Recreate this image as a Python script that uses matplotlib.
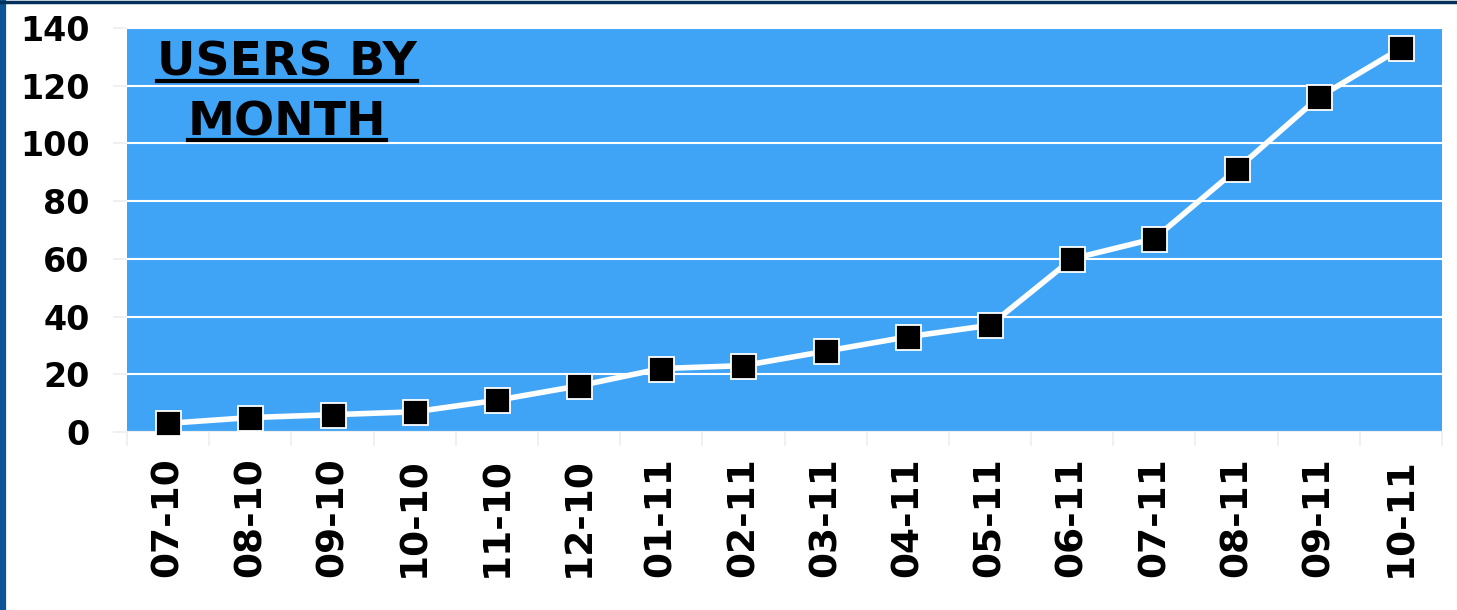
import matplotlib.pyplot as plt
from matplotlib.lines import Line2D

# datos
meses = ['07-10', '08-10', '09-10', '10-10', '11-10', '12-10', '01-11', '02-11',
         '03-11', '04-11', '05-11', '06-11', '07-11', '08-11', '09-11', '10-11']
usuarios = [3, 5, 6, 7, 11, 16, 22, 23, 28, 33, 37, 60, 67, 91, 116, 133]
yticks = [0, 20, 40, 60, 80, 100, 120, 140]

azul = '#40a4f6'

fig = plt.figure(figsize=(14.57, 6.10), dpi=100)
ax = fig.add_axes([0.0872, 0.2918, 0.9025, 0.6622])
ax.set_facecolor(azul)

x = list(range(len(meses)))
ax.plot(x, usuarios, color='white', lw=4, marker='s', markersize=18,
        markerfacecolor='black', markeredgecolor='white', markeredgewidth=1.3,
        zorder=5, clip_on=False)

ax.set_xlim(-0.5, len(meses) - 0.5)
ax.set_ylim(0, 140)
ax.set_yticks(yticks)
ax.set_yticklabels([str(v) for v in yticks], fontsize=24, fontweight='bold')
ax.set_xticks(x)
ax.set_xticklabels(meses, rotation=90, fontsize=27, fontweight='bold')
ax.set_xticks([i - 0.5 for i in range(len(meses) + 1)], minor=True)

# grid blanco horizontal
ax.yaxis.grid(True, color='white', lw=1.5)
ax.set_axisbelow(True)
for s in ax.spines.values():
    s.set_visible(False)
ax.axhline(0, color='#eeeeee', lw=1.5, zorder=1)

ax.tick_params(axis='y', length=10, color='#eeeeee', width=1.2, pad=17)
ax.tick_params(axis='x', which='major', length=0, pad=18)
ax.tick_params(axis='x', which='minor', length=10, color='#eeeeee', width=1.2)

# titulo subrayado
t1 = ax.text(0.1217, 0.882, 'USERS BY', transform=ax.transAxes, ha='center',
             va='baseline', fontsize=34, fontweight='bold', color='black')
t2 = ax.text(0.1217, 0.735, 'MONTH', transform=ax.transAxes, ha='center',
             va='baseline', fontsize=34, fontweight='bold', color='black')

fig.canvas.draw()
r = fig.canvas.get_renderer()
inv = ax.transAxes.inverted()
for t, yb in [(t1, 0.882), (t2, 0.735)]:
    bb = t.get_window_extent(renderer=r)
    xa0 = inv.transform((bb.x0, 0))[0]
    xa1 = inv.transform((bb.x1, 0))[0]
    ax.add_line(Line2D([xa0, xa1], [yb - 5 / 404, yb - 5 / 404], transform=ax.transAxes,
                       color='black', lw=3, zorder=6))

# borde azul oscuro (izquierda y arriba)
fig.add_artist(Line2D([3 / 1457, 3 / 1457], [0, 1], transform=fig.transFigure,
                      color='#0b5597', lw=4.5))
fig.add_artist(Line2D([0, 1], [1 - 1.5 / 610, 1 - 1.5 / 610], transform=fig.transFigure,
                      color='#06305c', lw=2.5))

fig.savefig('out.png', dpi=100, facecolor='white')
